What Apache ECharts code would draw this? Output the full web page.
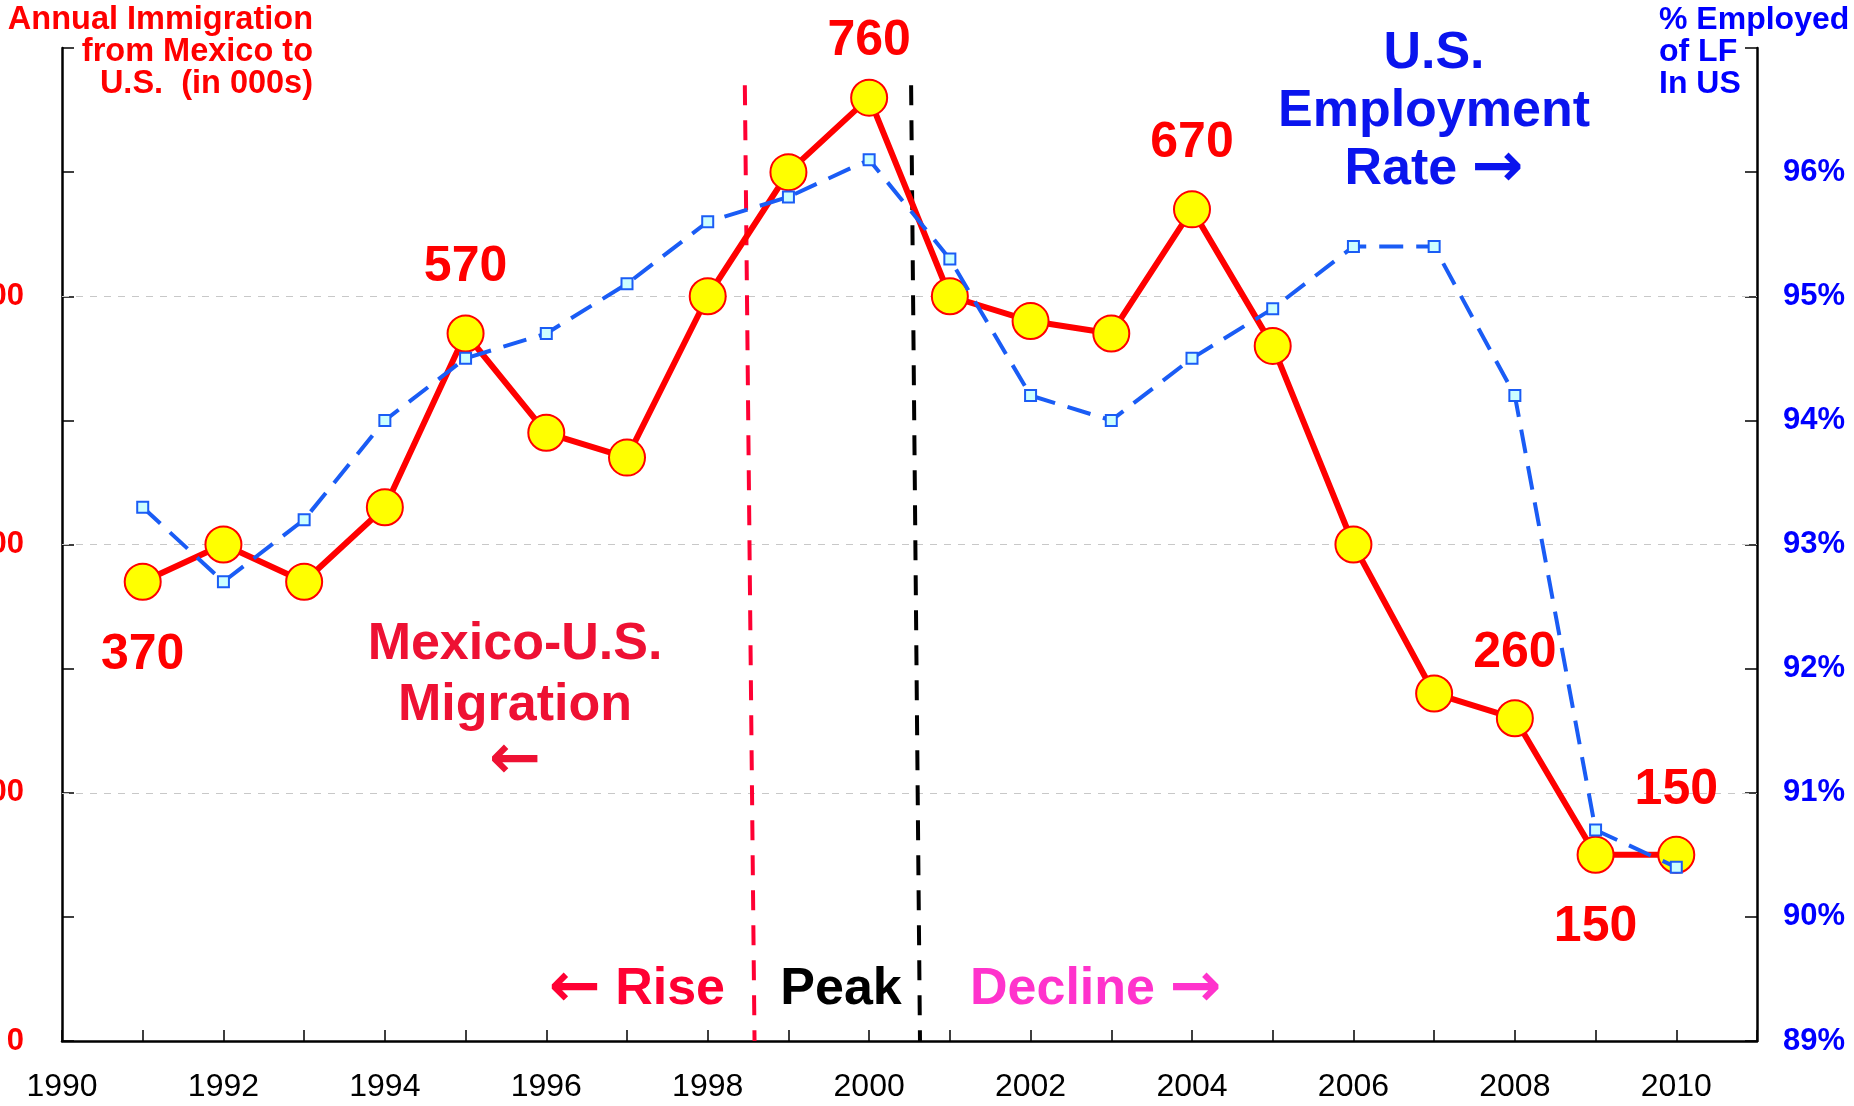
<!DOCTYPE html>
<html>
<head>
<meta charset="utf-8">
<script src="https://cdn.jsdelivr.net/npm/echarts@6/dist/echarts.min.js"></script>
<style>
html,body{margin:0;padding:0;background:#fff;}
#chart{width:1854px;height:1106px;}
</style>
</head>
<body>
<div id="chart"></div>
<script>
// values
const years = [1991,1992,1993,1994,1995,1996,1997,1998,1999,2000,2001,2002,2003,2004,2005,2006,2007,2008,2009,2010];
const migration = [370,400,370,430,570,490,470,600,700,760,600,580,570,670,560,400,280,260,150,150];
const employment = [93.3,92.7,93.2,94.0,94.5,94.7,95.1,95.6,95.8,96.1,95.3,94.2,94.0,94.5,94.9,95.4,95.4,94.2,90.7,90.4];
const labelledYears = [1991,1995,2000,2004,2008,2009,2010];
const leftTickLabels = [0,200,400,600];
const rightTickLabels = [89,90,91,92,93,94,95,96];
const yearTickLabels = [1990,1992,1994,1996,1998,2000,2002,2004,2006,2008,2010];
const gridValues = [200,400,600];
// phase separators (slightly slanted in the source)
const riseEnd = [[1998.46,770],[1998.58,0]];
const peakEnd = [[2000.52,770],[2000.63,0]];

const FONT = '"Liberation Sans", Arial, sans-serif';
const labelOffset = {1991:73, 1995:-66, 2000:-56, 2004:-66, 2008:-65, 2009:72, 2010:-65};
// arrows look better in DejaVu
const arrowRich = {a:{fontFamily:'"DejaVu Sans", sans-serif', fontWeight:'bold', fontSize:62}};

const chart = echarts.init(document.getElementById('chart'));

const redData = years.map((y,i) => {
    const item = {value:[y, migration[i]]};
    if (labelledYears.includes(y)) {
        item.label = {show:true, position:'inside', offset:[0, labelOffset[y]]};
    }
    return item;
});
const blueData = years.map((y,i) => [y, employment[i]]);

const option = {
    backgroundColor:'#fff',
    animation:false,
    grid:{left:62, right:97, top:48, bottom:65, outerBoundsMode:'none'},
    xAxis:{
        type:'value', min:1990, max:2011, interval:1,
        axisLine:{lineStyle:{color:'#000', width:2.5}},
        axisTick:{inside:true, length:11, lineStyle:{color:'#000', width:1.5}},
        axisLabel:{
            margin:30, color:'#000', fontSize:32, fontFamily:FONT,
            formatter:v => yearTickLabels.includes(v) ? String(v) : ''
        },
        splitLine:{show:false}
    },
    yAxis:[{
        type:'value', min:0, max:800, interval:100, position:'left',
        axisLine:{show:true, lineStyle:{color:'#000', width:2.5}},
        axisTick:{show:true, inside:true, length:12, lineStyle:{color:'#000', width:1.5}},
        axisLabel:{
            margin:38, color:'#ff0000', fontSize:31, fontWeight:'bold', fontFamily:FONT,
            formatter:v => leftTickLabels.includes(v) ? String(v) : ''
        },
        splitLine:{show:false}
    },{
        type:'value', min:89, max:97, interval:1, position:'right',
        axisLine:{show:true, lineStyle:{color:'#000', width:2.5}},
        axisTick:{show:true, inside:true, length:12, lineStyle:{color:'#000', width:1.5}},
        axisLabel:{
            margin:26, color:'#0000ff', fontSize:31, fontWeight:'bold', fontFamily:FONT,
            formatter:v => rightTickLabels.includes(v) ? v + '%' : ''
        },
        splitLine:{show:false}
    }],
    series:[{
        name:'Mexico-U.S. Migration',
        type:'line', yAxisIndex:0, z:3,
        data:redData,
        lineStyle:{color:'#ff0000', width:6},
        symbol:'circle', symbolSize:36,
        itemStyle:{color:'#ffff00', borderColor:'#ff0000', borderWidth:2},
        label:{show:false, color:'#ff0000', fontSize:50, fontWeight:'bold', fontFamily:FONT,
            formatter:p => String(p.value[1])},
        markLine:{
            silent:true, symbol:'none', z:1, label:{show:false},
            data:[
                ...gridValues.map(v => ({yAxis:v, lineStyle:{color:'#c8c8c8', width:1, type:[7,7]}})),
                [{coord:riseEnd[0]},{coord:riseEnd[1], lineStyle:{color:'#ff0033', width:4, type:[20,15]}}],
                [{coord:peakEnd[0]},{coord:peakEnd[1], lineStyle:{color:'#000', width:4, type:[20,15]}}]
            ]
        }
    },{
        name:'U.S. Employment Rate',
        type:'line', yAxisIndex:1, z:4,
        data:blueData,
        lineStyle:{color:'#1a5cf5', width:4, type:[24,13]},
        symbol:'rect', symbolSize:11,
        itemStyle:{color:'#ccffff', borderColor:'#1a5cf5', borderWidth:2}
    }],
    graphic:[
        {type:'text', x:313, y:52, style:{text:'Annual Immigration\nfrom Mexico to\nU.S.  (in 000s)',
            fill:'#ff0000', font:'bold 32.5px ' + FONT, lineHeight:32, align:'right', verticalAlign:'middle'}},
        {type:'text', x:1659, y:52, style:{text:'% Employed\nof LF\nIn US',
            fill:'#0000ff', font:'bold 32px ' + FONT, lineHeight:32, align:'left', verticalAlign:'middle'}},
        {type:'text', x:1434, y:112, style:{text:'U.S.\nEmployment\nRate {a|\u2192}', rich:arrowRich,
            fill:'#0a14ee', font:'bold 52px ' + FONT, lineHeight:58, align:'center', verticalAlign:'middle'}},
        {type:'text', x:515, y:675, style:{text:'Mexico-U.S.\nMigration',
            fill:'#ee1133', font:'bold 52px ' + FONT, lineHeight:61, align:'center', verticalAlign:'middle'}},
        {type:'text', x:515, y:762, style:{text:'{a|\u2190}', rich:arrowRich,
            fill:'#ee1133', font:'bold 52px ' + FONT, align:'center', verticalAlign:'middle'}},
        {type:'text', x:725, y:990, style:{text:'{a|\u2190} Rise', rich:arrowRich,
            fill:'#ff0033', font:'bold 52px ' + FONT, align:'right', verticalAlign:'middle'}},
        {type:'text', x:841, y:990, style:{text:'Peak',
            fill:'#000', font:'bold 52px ' + FONT, align:'center', verticalAlign:'middle'}},
        {type:'text', x:970, y:990, style:{text:'Decline {a|\u2192}', rich:arrowRich,
            fill:'#ff33cc', font:'bold 52px ' + FONT, align:'left', verticalAlign:'middle'}}
    ]
};
chart.setOption(option);
</script>
</body>
</html>
